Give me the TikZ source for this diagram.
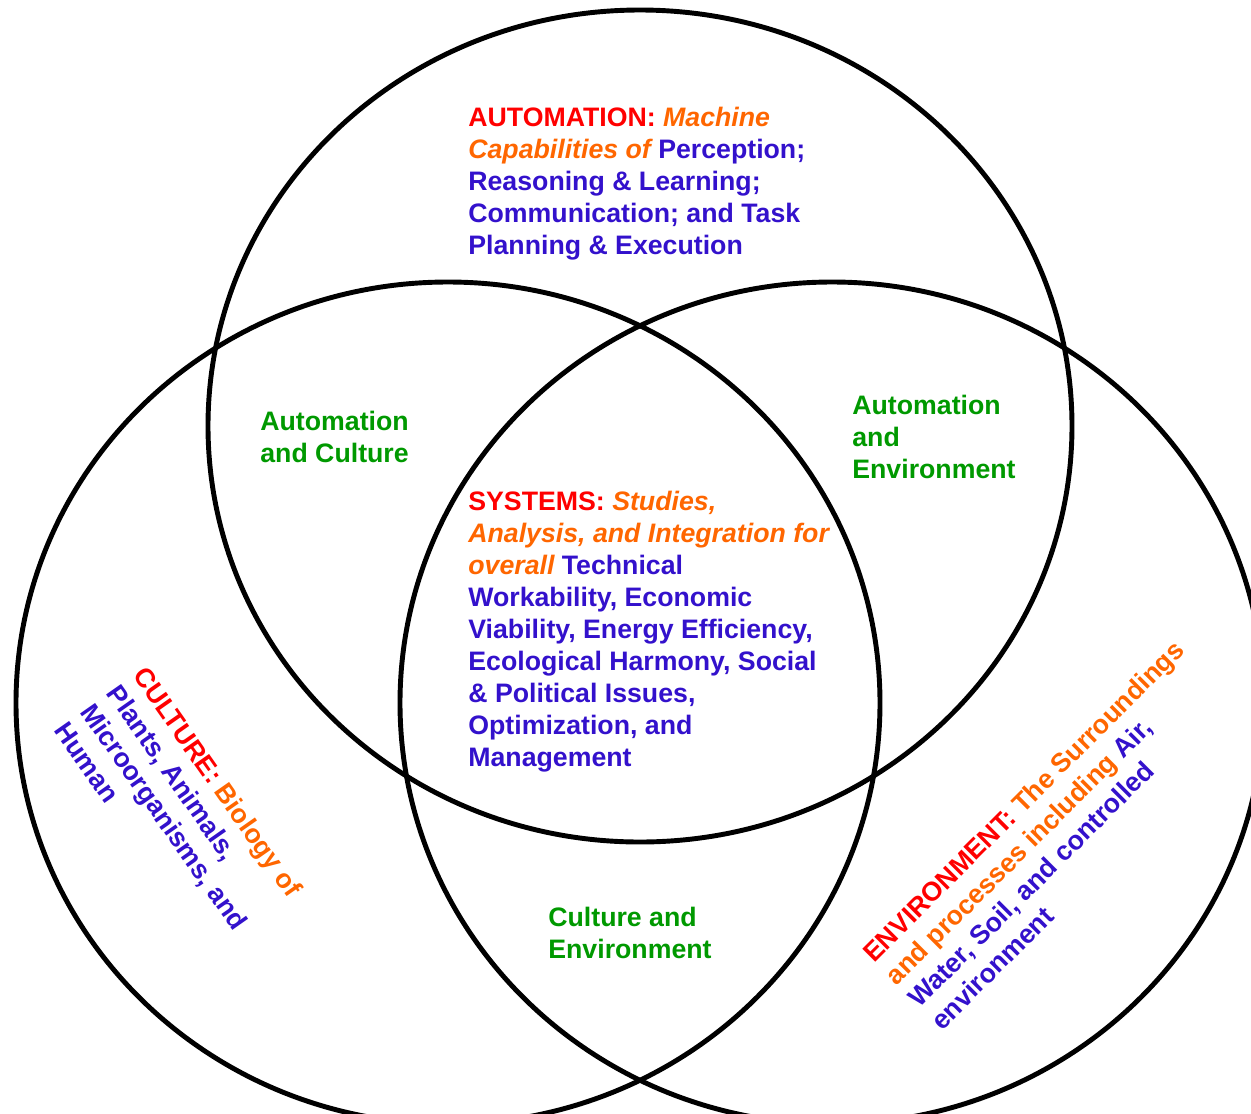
\documentclass[tikz,border=0pt]{standalone}
\usepackage{fontspec}
\setmainfont{Liberation Sans}
\usetikzlibrary{positioning}

\definecolor{headred}{HTML}{FF0000}
\definecolor{descorange}{HTML}{FF6600}
\definecolor{topicblue}{HTML}{3311CC}
\definecolor{overlapgreen}{HTML}{009900}

\newcommand{\topichead}[1]{{\color{headred}#1}}
\newcommand{\topicdesc}[1]{{\color{descorange}\itshape #1}}
\newcommand{\topicplain}[1]{{\color{descorange}#1}}

\begin{document}
\begin{tikzpicture}[x=0.02cm, y=-0.02cm,
    ring/.style={draw=black, line width=2.8pt},
    textblock/.style={inner sep=0pt, align=left, anchor=north west, text=topicblue,
        font=\fontsize{15.2}{18.2}\selectfont\bfseries},
    overlap/.style={textblock, text=overlapgreen}]
    \useasboundingbox (0,0) rectangle (1251,1113);

    % Circles
    \draw[ring] (640,426) ellipse [x radius=432, y radius=416];
    \draw[ring] (448,703) ellipse [x radius=432, y radius=421];
    \draw[ring] (832,703) ellipse [x radius=432, y radius=421];

    % Main topics
    \node[textblock] (automation) at (468,107)
        {\topichead{AUTOMATION:} \topicdesc{Machine}\\
         \topicdesc{Capabilities of} Perception;\\
         Reasoning \& Learning;\\
         Communication; and Task\\
         Planning \& Execution};
    \node[textblock] (systems) at (468,491)
        {\topichead{SYSTEMS:} \topicdesc{Studies,}\\
         \topicdesc{Analysis, and Integration for}\\
         \topicdesc{overall} Technical\\
         Workability, Economic\\
         Viability, Energy Efficiency,\\
         Ecological Harmony, Social\\
         \& Political Issues,\\
         Optimization, and\\
         Management};
    \node[textblock, rotate=-55] (culture) at (148,664)
        {\topichead{CULTURE:} \topicplain{Biology of}\\
         Plants, Animals,\\
         Microorganisms, and\\
         Human};
    \node[textblock, rotate=45] (environment) at (860,950)
        {\topichead{ENVIRONMENT:} \topicplain{The Surroundings}\\
         \topicplain{and processes including} Air,\\
         Water, Soil, and controlled\\
         environment};

    % Overlaps
    \node[overlap] (autoculture) at (260,411) {Automation\\and Culture};
    \node[overlap] (autoenv) at (852,395) {Automation\\and\\Environment};
    \node[overlap] (cultenv) at (548,907) {Culture and\\Environment};
\end{tikzpicture}
\end{document}
